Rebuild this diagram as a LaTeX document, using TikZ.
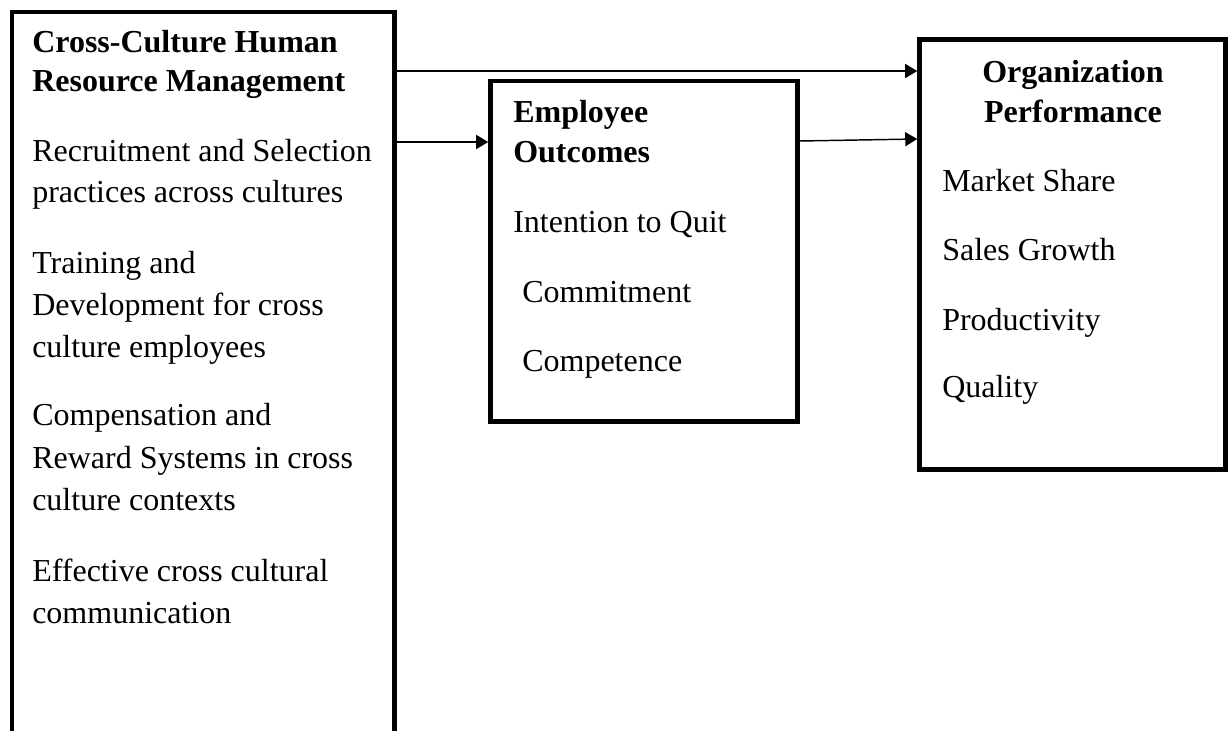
\documentclass[tikz,border=0pt]{standalone}
\usepackage{fontspec}
\setmainfont{Liberation Serif}
\usetikzlibrary{arrows.meta}
\begin{document}
\begin{tikzpicture}[x=0.75pt,y=-0.75pt,
  box/.style={draw=black, line width=3.4pt, inner sep=0pt, fill=none},
  txt/.style={anchor=base west, inner sep=0pt, font=\fontsize{24}{31}\selectfont},
  btxt/.style={anchor=base west, inner sep=0pt, font=\fontsize{24}{31}\selectfont\bfseries},
  ctxt/.style={anchor=base, inner sep=0pt, font=\fontsize{24}{31}\selectfont\bfseries},
  conn/.style={line width=1.1pt, -{Triangle[length=9pt,width=10.5pt]}}]
\useasboundingbox (0,0) rectangle (1228,731);
\clip (0,0) rectangle (1228,731);
\fill[white] (0,0) rectangle (1228,731);
% boxes
\node[box, minimum width=286.875pt, minimum height=561pt] (hrm) at (203.25,386) {};
\node[box, minimum width=230.25pt, minimum height=255.375pt] (emp) at (644,251.25) {};
\node[box, minimum width=229.5pt, minimum height=322.5pt] (perf) at (1072.5,254.5) {};
% left box text
\node[btxt] (h1) at (32,53) {Cross-Culture Human};
\node[btxt] (h2) at (32,92) {Resource Management};
\node[txt] (a1) at (32,162) {Recruitment and Selection};
\node[txt] (a2) at (32,203) {practices across cultures};
\node[txt] (b1) at (32,273) {Training and};
\node[txt] (b2) at (32,315) {Development for cross};
\node[txt] (b3) at (32,357) {culture employees};
\node[txt] (c1) at (32,425) {Compensation and};
\node[txt] (c2) at (32,468) {Reward Systems in cross};
\node[txt] (c3) at (32,510) {culture contexts};
\node[txt] (d1) at (32,581) {Effective cross cultural};
\node[txt] (d2) at (32,623) {communication};
% middle box text
\node[btxt] (e1) at (513,123) {Employee};
\node[btxt] (e2) at (513,163) {Outcomes};
\node[txt] (e3) at (513,233) {Intention to Quit};
\node[txt] (e4) at (522,302) {Commitment};
\node[txt] (e5) at (522,371) {Competence};
% right box text
\node[ctxt] (p1) at (1073,83) {Organization};
\node[ctxt] (p2) at (1073,123) {Performance};
\node[txt] (p3) at (942,191) {Market Share};
\node[txt] (p4) at (942,260) {Sales Growth};
\node[txt] (p5) at (942,330) {Productivity};
\node[txt] (p6) at (942,397) {Quality};
% connectors
\draw[conn] (hrm.east |- 0,71) -- (perf.west |- 0,71);
\draw[conn] (hrm.east |- 0,142) -- (emp.west |- 0,142);
\draw[conn] (emp.east |- 0,141) -- (perf.west |- 0,139);
\end{tikzpicture}
\end{document}
